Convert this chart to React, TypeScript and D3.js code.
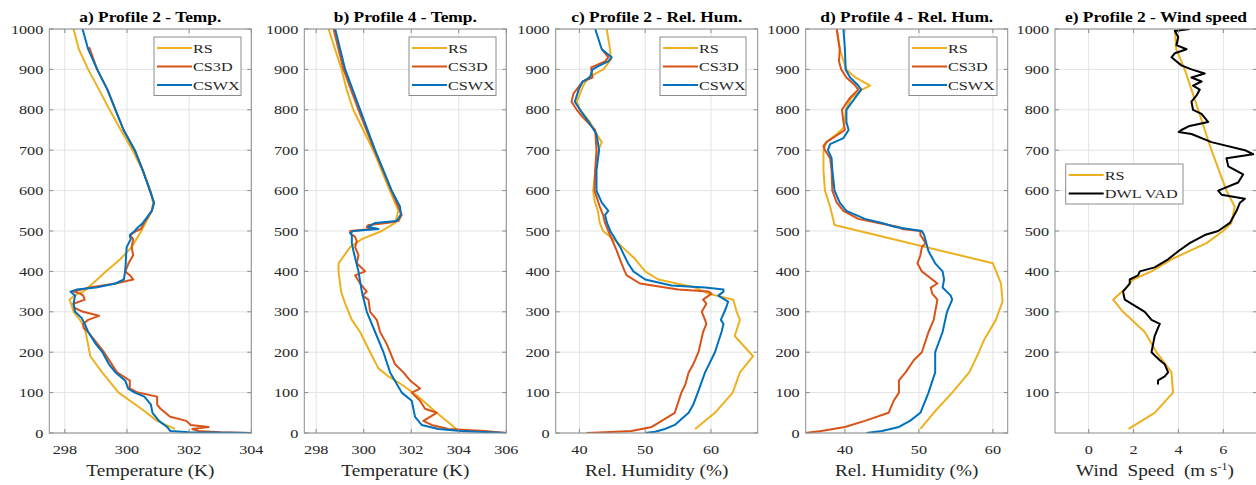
import React from "react";
import * as d3 from "d3";

type Pt = [number, number]; // [height (m), value]

// ---- a) Profile 2 - Temperature (K)
const tempP2_RS: Pt[] = [[1000,298.28],[950,298.45],[900,298.75],[850,299.1],[800,299.44],[750,299.8],[700,300.18],[650,300.5],[600,300.75],[570,300.84],[550,300.8],[500,300.46],[460,300.15],[430,299.78],[400,299.32],[370,298.9],[350,298.6],[340,298.3],[330,298.15],[320,298.2],[300,298.28],[280,298.49],[260,298.64],[230,298.72],[190,298.82],[150,299.2],[100,299.73],[60,300.46],[30,300.97],[10,301.54]];
const tempP2_CS3D: Pt[] = [[955,298.78],[900,299.04],[850,299.37],[800,299.63],[750,299.89],[700,300.25],[650,300.51],[600,300.74],[570,300.87],[550,300.8],[520,300.55],[505,300.45],[500,300.3],[490,300.1],[480,300.2],[460,300.15],[440,300.2],[420,300.05],[410,300.0],[400,299.94],[390,300.1],[380,300.2],[370,299.63],[360,298.8],[350,298.28],[345,298.5],[340,298.59],[330,298.64],[320,298.28],[310,298.3],[300,298.59],[290,299.1],[280,298.75],[270,298.59],[260,298.6],[250,298.75],[200,299.26],[150,299.68],[130,300.09],[110,300.09],[100,300.35],[90,300.97],[70,300.97],[60,301.08],[40,301.39],[30,301.91],[20,302.05],[15,302.63],[10,302.1],[5,302.3],[2,303],[0,304]];
const tempP2_CSWX: Pt[] = [[1000,298.57],[950,298.75],[900,299.04],[850,299.37],[800,299.63],[750,299.89],[700,300.25],[650,300.51],[600,300.74],[570,300.87],[550,300.8],[520,300.51],[505,300.3],[500,300.25],[490,300.09],[480,300.12],[460,299.99],[440,299.97],[420,299.96],[400,299.94],[380,299.9],[370,299.63],[360,299.0],[355,298.38],[350,298.18],[340,298.33],[320,298.28],[300,298.33],[285,298.54],[270,298.64],[250,298.75],[220,299.0],[200,299.21],[170,299.42],[150,299.63],[130,299.94],[110,300.04],[100,300.25],[90,300.56],[70,300.77],[50,300.82],[30,301.03],[15,301.29],[5,301.39],[2,302],[0,304]];

// ---- b) Profile 4 - Temperature (K)
const tempP4_RS: Pt[] = [[1000,298.52],[900,299.07],[850,299.28],[800,299.56],[700,300.4],[600,301.1],[550,301.46],[520,301.32],[500,300.76],[480,299.92],[460,299.43],[420,298.94],[400,298.94],[350,299.05],[320,299.22],[280,299.5],[250,299.85],[200,300.27],[160,300.62],[140,301.04],[120,301.6],[90,302.3],[50,303.07],[10,303.9]];
const tempP4_CS3D: Pt[] = [[1000,298.73],[900,299.15],[800,299.78],[700,300.45],[600,301.16],[560,301.46],[540,301.6],[525,301.46],[520,300.97],[515,300.2],[510,300.13],[505,300.34],[500,299.43],[495,299.43],[485,299.64],[475,299.71],[460,299.64],[440,299.78],[420,299.71],[400,300.06],[390,299.64],[370,299.85],[350,300.13],[340,299.95],[330,300.2],[300,300.27],[280,300.55],[250,300.69],[220,300.97],[200,301.11],[170,301.32],[150,301.67],[130,301.95],[110,302.37],[100,302.02],[80,302.37],[60,302.58],[50,303.07],[30,302.51],[20,302.86],[10,303.56],[5,305.1],[0,306]];
const tempP4_CSWX: Pt[] = [[1000,298.8],[900,299.22],[800,299.85],[700,300.48],[600,301.18],[560,301.53],[540,301.56],[525,301.39],[520,300.48],[510,300.2],[505,300.62],[500,299.57],[495,299.43],[490,299.5],[470,299.5],[450,299.57],[400,299.78],[350,299.92],[300,300.13],[250,300.48],[200,300.83],[150,301.11],[100,301.6],[80,302.02],[60,302.09],[40,302.16],[20,302.44],[10,303.14],[5,304.1],[0,306]];

// ---- c) Profile 2 - Relative humidity (%)
const rhP2_RS: Pt[] = [[1000,44.15],[950,44.66],[925,44.8],[900,43.65],[880,41.37],[860,40.6],[820,39.6],[800,40.1],[770,41.6],[740,42.6],[720,43.4],[700,42.9],[650,42.4],[600,42.1],[575,42.3],[550,42.8],[520,43.1],[500,43.6],[470,45.9],[430,48.5],[400,50.0],[380,52.0],[360,57.6],[345,59.6],[330,63.4],[300,63.9],[280,64.4],[240,63.6],[190,66.4],[150,64.4],[100,63.3],[50,60.6],[10,57.6]];
const rhP2_CS3D: Pt[] = [[950,43.4],[930,44.4],[920,43.9],[905,41.8],[900,41.8],[880,42.0],[870,40.5],[840,39.1],[820,38.8],[800,39.6],[780,40.6],[750,42.4],[700,42.6],[650,42.4],[600,42.3],[560,43.1],[540,43.6],[520,43.9],[500,44.4],[450,45.7],[420,46.4],[400,46.9],[390,47.2],[370,49.2],[355,55.0],[350,59.6],[345,60.1],[330,58.8],[320,59.3],[300,58.6],[280,59.1],[270,59.3],[250,58.8],[200,58.1],[170,57.3],[150,56.6],[120,56.1],[100,55.5],[50,54.5],[30,52.5],[15,51.0],[5,47.9],[2,43.9],[0,41.1]];
const rhP2_CSWX: Pt[] = [[1000,42.4],[950,43.4],[930,44.9],[920,44.4],[910,43.1],[900,42.0],[880,41.6],[870,40.5],[850,39.9],[820,39.3],[800,40.1],[770,41.4],[740,42.6],[700,43.0],[650,42.6],[600,42.6],[570,43.4],[550,44.4],[540,43.9],[520,44.2],[500,44.7],[460,46.2],[420,47.4],[400,48.2],[380,50.0],[365,54.0],[360,59.1],[355,61.9],[350,61.9],[340,61.1],[325,62.6],[310,62.3],[280,61.5],[270,61.9],[250,61.6],[200,60.6],[150,59.1],[100,58.0],[70,57.3],[50,56.6],[20,54.5],[10,53.0],[3,51.5],[0,50.0]];

// ---- d) Profile 4 - Relative humidity (%)
const rhP4_RS: Pt[] = [[1000,38.87],[950,39.3],[900,40.2],[880,41.4],[860,43.4],[850,42.3],[830,40.9],[800,40.1],[770,40.0],[755,39.8],[740,38.9],[720,37.5],[700,37.1],[650,37.1],[600,37.3],[560,38.0],[515,38.6],[420,60.0],[370,61.1],[325,61.3],[280,60.4],[230,58.8],[200,58.1],[150,56.8],[100,54.5],[50,52.0],[10,50.2]];
const rhP4_CS3D: Pt[] = [[1000,38.9],[950,39.3],[920,39.2],[900,39.5],[880,40.2],[860,41.4],[850,41.8],[830,40.7],[800,39.6],[770,39.8],[750,40.0],[720,37.5],[710,37.1],[700,37.3],[680,38.0],[650,38.2],[600,38.3],[570,38.9],[550,39.8],[530,41.8],[520,44.5],[510,47.3],[505,47.7],[500,50.2],[490,50.2],[470,50.9],[460,50.4],[440,50.2],[420,49.8],[400,50.4],[380,51.8],[370,52.5],[360,51.6],[345,51.8],[330,52.5],[300,52.2],[280,52.0],[250,51.3],[200,50.4],[180,49.3],[150,48.2],[130,47.3],[100,47.3],[80,46.6],[50,45.9],[30,42.7],[15,40.0],[5,36.8],[0,34.6]];
const rhP4_CSWX: Pt[] = [[1000,39.8],[950,40.0],[900,40.1],[880,40.7],[860,41.8],[850,42.2],[830,41.4],[800,40.2],[770,40.2],[750,40.5],[730,39.8],[715,38.0],[700,37.7],[680,38.2],[650,38.3],[600,38.6],[570,39.3],[550,40.2],[530,42.7],[520,45.0],[510,46.8],[500,50.4],[490,50.7],[450,51.3],[420,52.2],[400,53.2],[380,53.4],[360,53.2],[340,54.3],[330,54.5],[300,53.8],[250,53.2],[200,52.2],[150,52.2],[100,51.3],[50,50.2],[30,48.8],[15,47.3],[5,45.0],[0,42.9]];

// ---- e) Profile 2 - Wind speed (m/s)
const wsP2_RS: Pt[] = [[1000,3.84],[950,3.9],[900,4.28],[800,4.88],[700,5.47],[600,6.14],[560,6.51],[520,6.36],[500,5.99],[470,5.25],[430,3.69],[400,2.8],[380,1.98],[360,1.68],[330,1.09],[300,1.53],[250,2.5],[200,3.02],[150,3.69],[100,3.76],[50,2.94],[10,1.78]];
const wsP2_DWL: Pt[] = [[1000,4.5],[995,3.84],[980,3.99],[960,3.91],[950,4.36],[940,3.84],[930,3.69],[910,4.13],[900,4.58],[890,5.17],[880,4.58],[870,5.03],[860,4.65],[850,4.95],[835,4.8],[820,4.58],[800,4.65],[790,5.03],[770,5.32],[760,4.5],[750,4.13],[745,4.01],[740,4.58],[720,5.47],[700,6.96],[690,7.33],[680,6.14],[660,6.22],[640,6.88],[620,6.66],[600,5.77],[590,5.92],[580,6.96],[570,6.74],[550,6.59],[520,6.29],[500,5.77],[490,5.17],[470,4.5],[450,3.99],[430,3.54],[410,2.94],[400,2.28],[390,2.2],[380,1.83],[370,1.83],[350,1.53],[330,1.61],[320,1.9],[300,2.5],[280,2.8],[270,3.17],[260,3.09],[240,2.94],[220,2.87],[200,2.8],[180,3.17],[170,3.39],[150,3.54],[140,3.39],[130,3.09],[120,3.09]];

// ---- ticks / labels
const titles = ["a) Profile 2 - Temp.", "b) Profile 4 - Temp.", "c) Profile 2 - Rel. Hum.", "d) Profile 4 - Rel. Hum.", "e) Profile 2 - Wind speed"];
const tempTicksA = [298, 300, 302, 304];
const tempTicksB = [298, 300, 302, 304, 306];
const rhTicks = [40, 50, 60];
const wsTicks = [0, 2, 4, 6];
const heightTicks = [0, 100, 200, 300, 400, 500, 600, 700, 800, 900, 1000];
const heightTicksE = [100, 200, 300, 400, 500, 600, 700, 800, 900, 1000];
const labelsCS = ["RS", "CS3D", "CSWX"];
const labelsWS = ["RS", "DWL VAD"];

const C_RS = "#EDB120";
const C_CS3D = "#D95319";
const C_CSWX = "#0072BD";
const C_DWL = "#000000";
const FONT = "Liberation Serif, Times New Roman, DejaVu Serif, serif";
const SX = 1.2;

const W = 1256, H = 485;
const TOP = 29, BOTTOM = 433, PW = 202;

type Panel = {
  left: number; title: string; xDomain: [number, number]; xTicks: number[];
  yDomain: [number, number]; yTicks: number[];
  series: { data: Pt[]; color: string }[];
  legend: { labels: string[]; colors: string[]; x: number; y: number; w: number };
  xlabel: string | null;
};

const panels: Panel[] = [
  { left: 49.3, title: titles[0], xDomain: [297.5, 304], xTicks: tempTicksA, yDomain: [0, 1000], yTicks: heightTicks,
    series: [{ data: tempP2_RS, color: C_RS }, { data: tempP2_CS3D, color: C_CS3D }, { data: tempP2_CSWX, color: C_CSWX }],
    legend: { labels: labelsCS, colors: [C_RS, C_CS3D, C_CSWX], x: 154, y: 37, w: 87 }, xlabel: "Temperature (K)" },
  { left: 304.3, title: titles[1], xDomain: [297.5, 306], xTicks: tempTicksB, yDomain: [0, 1000], yTicks: heightTicks,
    series: [{ data: tempP4_RS, color: C_RS }, { data: tempP4_CS3D, color: C_CS3D }, { data: tempP4_CSWX, color: C_CSWX }],
    legend: { labels: labelsCS, colors: [C_RS, C_CS3D, C_CSWX], x: 409, y: 37, w: 87 }, xlabel: "Temperature (K)" },
  { left: 555.7, title: titles[2], xDomain: [36.4, 67.1], xTicks: rhTicks, yDomain: [0, 1000], yTicks: heightTicks,
    series: [{ data: rhP2_RS, color: C_RS }, { data: rhP2_CS3D, color: C_CS3D }, { data: rhP2_CSWX, color: C_CSWX }],
    legend: { labels: labelsCS, colors: [C_RS, C_CS3D, C_CSWX], x: 660, y: 37, w: 86 }, xlabel: "Rel. Humidity (%)" },
  { left: 805.7, title: titles[3], xDomain: [34.7, 62.0], xTicks: rhTicks, yDomain: [0, 1000], yTicks: heightTicks,
    series: [{ data: rhP4_RS, color: C_RS }, { data: rhP4_CS3D, color: C_CS3D }, { data: rhP4_CSWX, color: C_CSWX }],
    legend: { labels: labelsCS, colors: [C_RS, C_CS3D, C_CSWX], x: 909, y: 37, w: 88 }, xlabel: "Rel. Humidity (%)" },
  { left: 1055, title: titles[4], xDomain: [-1.5, 7.5], xTicks: wsTicks, yDomain: [0, 1000], yTicks: heightTicksE,
    series: [{ data: wsP2_RS, color: C_RS }, { data: wsP2_DWL, color: C_DWL }],
    legend: { labels: labelsWS, colors: [C_RS, C_DWL], x: 1065.7, y: 164, w: 117.3 }, xlabel: null },
];

function SText(props: { x: number; y: number; anchor?: string; size: number; bold?: boolean; fill?: string; dy?: string; children: React.ReactNode }) {
  const { x, y, anchor = "start", size, bold, fill = "#262626", dy, children } = props;
  return (
    <text transform={`translate(${x},${y}) scale(${SX},1)`} textAnchor={anchor}
      style={{ fontFamily: FONT, fontSize: `${size}px`, fontWeight: bold ? 700 : 400 }} fill={fill} dy={dy}>
      {children}
    </text>
  );
}

function PanelView({ p, idx }: { p: Panel; idx: number }) {
  const x = d3.scaleLinear().domain(p.xDomain).range([p.left, p.left + PW]);
  const y = d3.scaleLinear().domain(p.yDomain).range([BOTTOM, TOP]);
  const line = d3.line<Pt>().x((d) => x(d[1])).y((d) => y(d[0]));
  const right = p.left + PW;
  const clipId = `clip${idx}`;
  const tk = 4;
  const boxColor = "#8c8c8c";
  const gridColor = "#e3e3e3";
  const lh = 18.5;
  const lgH = p.legend.labels.length * lh + 3;
  return (
    <g>
      <defs>
        <clipPath id={clipId}>
          <rect x={p.left} y={TOP} width={Math.min(PW, W - p.left)} height={BOTTOM - TOP} />
        </clipPath>
      </defs>
      <rect x={p.left} y={TOP} width={PW} height={BOTTOM - TOP} fill="#fff" />
      {p.xTicks.map((t) => (
        <line key={"gx" + t} x1={x(t)} x2={x(t)} y1={TOP} y2={BOTTOM} stroke={gridColor} strokeWidth={1} />
      ))}
      {p.yTicks.map((t) => (
        <line key={"gy" + t} x1={p.left} x2={right} y1={y(t)} y2={y(t)} stroke={gridColor} strokeWidth={1} />
      ))}
      <g clipPath={`url(#${clipId})`}>
        {p.series.map((s, i) => (
          <path key={i} d={line(s.data) || ""} fill="none" stroke={s.color} strokeWidth={2} strokeLinejoin="round" />
        ))}
      </g>
      <rect x={p.left} y={TOP} width={PW} height={BOTTOM - TOP} fill="none" stroke={boxColor} strokeWidth={1} />
      {p.xTicks.map((t) => (
        <g key={"tx" + t}>
          <line x1={x(t)} x2={x(t)} y1={BOTTOM} y2={BOTTOM - tk} stroke={boxColor} />
          <line x1={x(t)} x2={x(t)} y1={TOP} y2={TOP + tk} stroke={boxColor} />
          <SText x={x(t)} y={454} anchor="middle" size={13.5}>{t}</SText>
        </g>
      ))}
      {p.yTicks.map((t) => (
        <g key={"ty" + t}>
          <line x1={p.left} x2={p.left + tk} y1={y(t)} y2={y(t)} stroke={boxColor} />
          <line x1={right} x2={right - tk} y1={y(t)} y2={y(t)} stroke={boxColor} />
          <SText x={p.left - 6} y={y(t)} anchor="end" size={13.5} dy="0.34em">{t}</SText>
        </g>
      ))}
      <SText x={p.left + PW / 2} y={22} anchor="middle" size={14.5} bold fill="#000">{p.title}</SText>
      {p.xlabel ? (
        <SText x={p.left + PW / 2} y={476} anchor="middle" size={16}>{p.xlabel}</SText>
      ) : (
        <text transform={`translate(${p.left + PW / 2 - 1},476) scale(${SX},1)`} textAnchor="middle"
          style={{ fontFamily: FONT, fontSize: "16px", whiteSpace: "pre" }} fill="#262626">
          {"Wind  Speed  (m s"}
          <tspan style={{ fontSize: "10px" }} dy={-6}>-1</tspan>
          <tspan dy={6}>)</tspan>
        </text>
      )}
      <rect x={p.legend.x} y={p.legend.y} width={p.legend.w} height={lgH} fill="#fff" stroke={boxColor} strokeWidth={1} />
      {p.legend.labels.map((l, i) => {
        const cy = p.legend.y + 11 + i * lh;
        return (
          <g key={"lg" + i}>
            <line x1={p.legend.x + 3} x2={p.legend.x + 38} y1={cy} y2={cy} stroke={p.legend.colors[i]} strokeWidth={2} />
            <SText x={p.legend.x + 39} y={cy} size={13.5} dy="0.34em">{l}</SText>
          </g>
        );
      })}
    </g>
  );
}

export default function App() {
  return (
    <svg width={W} height={H} viewBox={`0 0 ${W} ${H}`} style={{ position: "absolute", left: 0, top: 0, background: "#fff" }}>
      <rect x={0} y={0} width={W} height={H} fill="#fff" />
      {panels.map((p, i) => (
        <PanelView key={i} p={p} idx={i} />
      ))}
    </svg>
  );
}
